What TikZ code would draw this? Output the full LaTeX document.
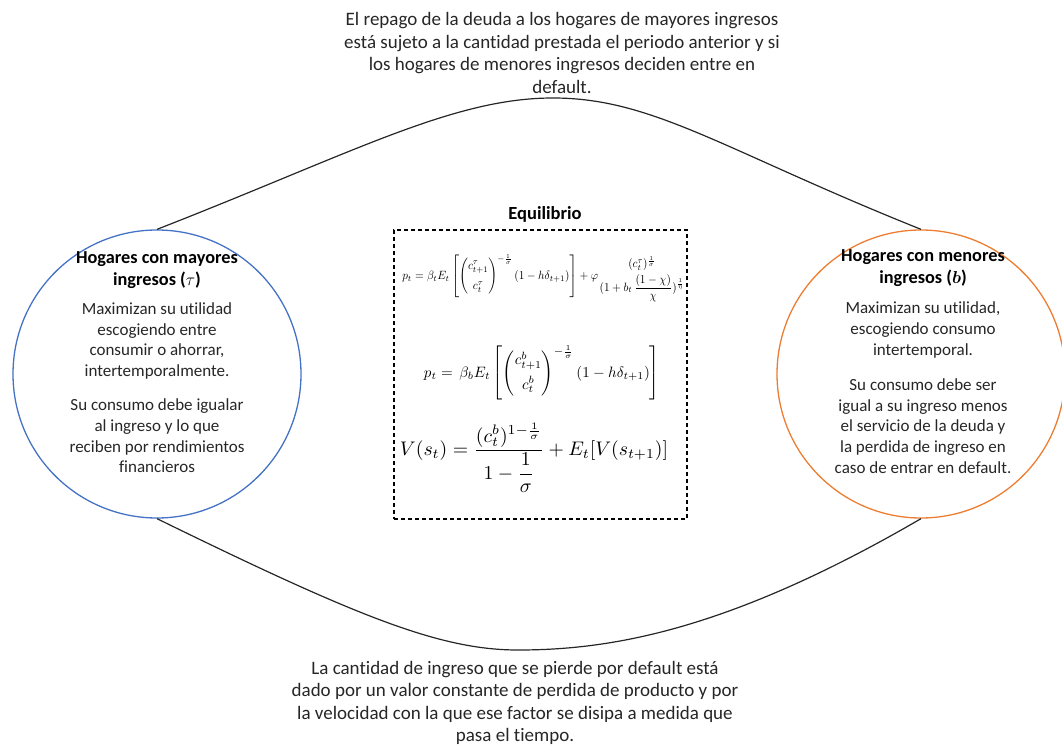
\documentclass[tikz,border=0pt]{standalone}
\usepackage{amsmath}
\usepackage{graphicx}
\usepackage{fontspec}
\setmainfont{Carlito}[Ligatures=NoCommon]
\tikzset{
  hog/.style={circle, draw, line width=1.3pt, minimum size=288pt, inner sep=0pt},
  conn/.style={draw=black!85, line width=1.2pt},
  titletxt/.style={align=center, font=\fontsize{18.3}{21.7}\selectfont\bfseries, inner sep=0pt},
  bodytxt/.style={align=center, font=\fontsize{17}{20.7}\selectfont, inner sep=0pt, text=black!85},
  bigtxt/.style={align=center, font=\fontsize{19}{22.5}\selectfont, inner sep=0pt, text=black!85},
  eqn/.style={inner sep=0pt}
}
\definecolor{hblue}{RGB}{68,114,196}
\definecolor{horange}{RGB}{237,125,49}
\begin{document}
\begin{tikzpicture}[x=1pt,y=-1pt]
\useasboundingbox (0,0) rectangle (1062,746);
% circles
\node[hog, draw=hblue] (L) at (157,374) {};
\node[hog, draw=horange] (R) at (921,374) {};
% connectors
\coordinate (topapex) at (553,98);
\coordinate (botapex) at (518,650);
\draw[conn] (L.north) .. controls (355,152) and (453,98) .. (topapex)
  .. controls (653,98) and (723,150) .. (R.north);
\draw[conn] (L.south) .. controls (358,617) and (440,650) .. (botapex)
  .. controls (610,650) and (728,631) .. (R.south);
% top and bottom texts
\node[bigtxt] (toptext) at (562,53) {El repago de la deuda a los hogares de mayores ingresos\\está sujeto a la cantidad prestada el periodo anterior y si\\los hogares de menores ingresos deciden entre en\\default.};
\node[bigtxt] (bottext) at (515,703) {La cantidad de ingreso que se pierde por default está\\dado por un valor constante de perdida de producto y por\\la velocidad con la que ese factor se disipa a medida que\\pasa el tiempo.};
% left circle text
\node[titletxt] (Lt) at (157,270) {Hogares con mayores\\ingresos ($\tau$)};
\node[bodytxt] (Lb1) at (157,341) {Maximizan su utilidad\\escogiendo entre\\consumir o ahorrar,\\intertemporalmente.};
\node[bodytxt] (Lb2) at (157,436) {Su consumo debe igualar\\al ingreso y lo que\\reciben por rendimientos\\financieros};
% right circle text
\node[titletxt] (Rt) at (923,268) {Hogares con menores\\ingresos ($\boldsymbol{b}$)};
\node[bodytxt] (Rb1) at (923,330) {Maximizan su utilidad,\\escogiendo consumo\\intertemporal.};
\node[bodytxt] (Rb2) at (923,426) {Su consumo debe ser\\igual a su ingreso menos\\el servicio de la deuda y\\la perdida de ingreso en\\caso de entrar en default.};
% equilibrium box
\node[titletxt, font=\fontsize{18.5}{21}\selectfont\bfseries] (eqt) at (545,214) {Equilibrio};
\node[draw, dash pattern=on 4pt off 3pt, line width=1.1pt, minimum width=293pt, minimum height=289pt, inner sep=0pt] (box) at (540.5,374.5) {};
\node[eqn] (e1) at (544,278) {\scalebox{1.13}[1.2]{$p_t=\beta_t E_t\left[\begin{pmatrix} c^{\tau}_{t+1}\\[5pt] c^{\tau}_{t}\end{pmatrix}^{-\frac{1}{\sigma}}(1-h\delta_{t+1})\right]+\varphi\genfrac{}{}{0pt}{0}{(c^{\tau}_t)^{\frac{1}{\sigma}}}{(1+b_t\,\dfrac{(1-\chi)}{\chi})^{\frac{1}{\eta}}}$}};
\node[eqn] (e2) at (542,373) {\resizebox{236pt}{!}{$p_t=\,\beta_b E_t\left[\begin{pmatrix} c^{b}_{t+1}\\[4pt] c^{b}_{t}\end{pmatrix}^{-\frac{1}{\sigma}}(1-h\delta_{t+1})\right]$}};
\node[eqn] (e3) at (534,458) {\resizebox{268pt}{!}{$V(s_t)=\dfrac{(c^{b}_t)^{1-\frac{1}{\sigma}}}{1-\dfrac{1}{\sigma}}+E_t[V(s_{t+1})]$}};
\end{tikzpicture}
\end{document}
